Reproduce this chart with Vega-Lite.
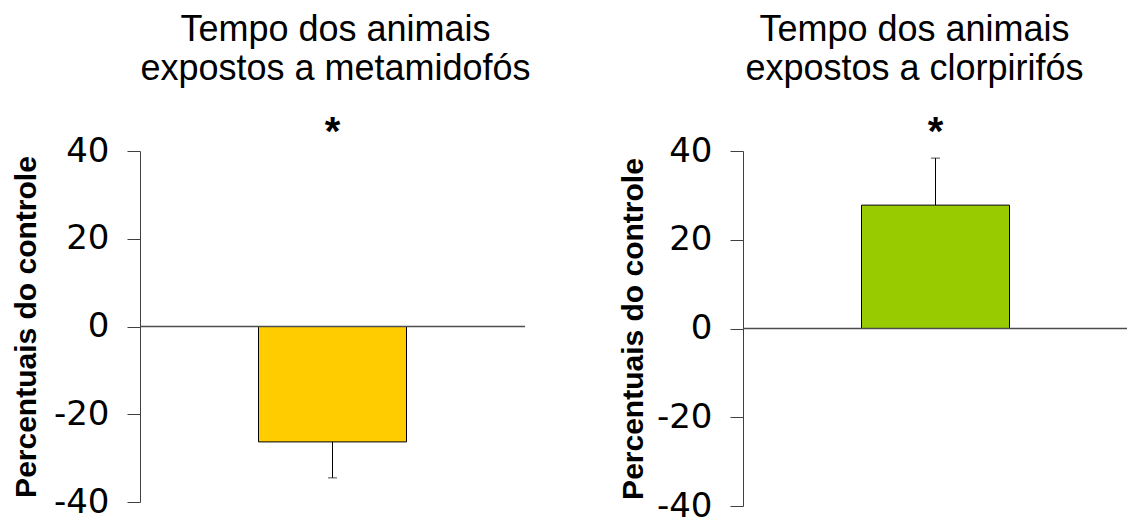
{
  "$schema": "https://vega.github.io/schema/vega-lite/v6.json",
  "background": "white",
  "padding": {"left": 11, "top": 12, "right": 0, "bottom": 0},
  "spacing": 87,
  "config": {
    "view": {"stroke": null},
    "font": "Liberation Sans",
    "title": {
      "font": "Liberation Sans",
      "fontSize": 36,
      "fontWeight": "normal",
      "color": "black",
      "lineHeight": 39,
      "frame": "group",
      "anchor": "middle"
    },
    "axisY": {
      "grid": false,
      "tickSize": 13,
      "labelPadding": 18,
      "labelFont": "DejaVu Sans",
      "labelFontSize": 34,
      "labelColor": "black",
      "labelFlush": false,
      "domainColor": "#404040",
      "tickColor": "#404040",
      "titleFont": "Liberation Sans",
      "titleFontSize": 30,
      "titleFontWeight": "bold",
      "titleColor": "black"
    }
  },
  "hconcat": [
    {
      "width": 385,
      "height": 351,
      "title": {"text": ["Tempo dos animais", "expostos a metamidofós"], "offset": 25, "dx": 3},
      "data": {"values": [{"grupo": "metamidofós", "media": -26.3, "extremo": -34.5, "sig": "*"}]},
      "layer": [
        {
          "mark": {"type": "bar", "width": 148, "fill": "#FFCC00", "stroke": "black", "strokeWidth": 1},
          "encoding": {
            "x": {"field": "grupo", "type": "nominal", "axis": null},
            "y": {
              "field": "media",
              "type": "quantitative",
              "scale": {"domain": [-40, 40]},
              "axis": {
                "title": "Percentuais do controle",
                "titlePadding": 12,
                "values": [-40, -20, 0, 20, 40],
                "labelExpr": "toString(datum.value)"
              }
            }
          }
        },
        {
          "mark": {"type": "rule", "color": "#4d4d4d", "strokeWidth": 1.5},
          "encoding": {"y": {"datum": 0}}
        },
        {
          "mark": {"type": "rule", "color": "black", "strokeWidth": 1},
          "encoding": {
            "x": {"field": "grupo", "type": "nominal"},
            "y": {"field": "media", "type": "quantitative"},
            "y2": {"field": "extremo"}
          }
        },
        {
          "mark": {"type": "tick", "color": "black", "size": 9, "thickness": 1},
          "encoding": {
            "x": {"field": "grupo", "type": "nominal"},
            "y": {"field": "extremo", "type": "quantitative"}
          }
        },
        {
          "mark": {"type": "text", "fontSize": 40, "fontWeight": "bold", "color": "black", "baseline": "alphabetic", "dy": -6},
          "encoding": {
            "x": {"field": "grupo", "type": "nominal"},
            "y": {"datum": 40},
            "text": {"field": "sig"}
          }
        }
      ]
    },
    {
      "width": 385,
      "height": 355,
      "title": {"text": ["Tempo dos animais", "expostos a clorpirifós"], "offset": 25, "dx": -21},
      "data": {"values": [{"grupo": "clorpirifós", "media": 27.8, "extremo": 38.4, "sig": "*"}]},
      "layer": [
        {
          "mark": {"type": "bar", "width": 148, "fill": "#99CC00", "stroke": "black", "strokeWidth": 1},
          "encoding": {
            "x": {"field": "grupo", "type": "nominal", "axis": null},
            "y": {
              "field": "media",
              "type": "quantitative",
              "scale": {"domain": [-40, 40]},
              "axis": {
                "title": "Percentuais do controle",
                "titlePadding": 8,
                "values": [-40, -20, 0, 20, 40],
                "labelExpr": "toString(datum.value)"
              }
            }
          }
        },
        {
          "mark": {"type": "rule", "color": "#4d4d4d", "strokeWidth": 1.5},
          "encoding": {"y": {"datum": 0}}
        },
        {
          "mark": {"type": "rule", "color": "black", "strokeWidth": 1},
          "encoding": {
            "x": {"field": "grupo", "type": "nominal"},
            "y": {"field": "media", "type": "quantitative"},
            "y2": {"field": "extremo"}
          }
        },
        {
          "mark": {"type": "tick", "color": "black", "size": 9, "thickness": 1},
          "encoding": {
            "x": {"field": "grupo", "type": "nominal"},
            "y": {"field": "extremo", "type": "quantitative"}
          }
        },
        {
          "mark": {"type": "text", "fontSize": 40, "fontWeight": "bold", "color": "black", "baseline": "alphabetic", "dy": -6},
          "encoding": {
            "x": {"field": "grupo", "type": "nominal"},
            "y": {"datum": 40},
            "text": {"field": "sig"}
          }
        }
      ]
    }
  ]
}
